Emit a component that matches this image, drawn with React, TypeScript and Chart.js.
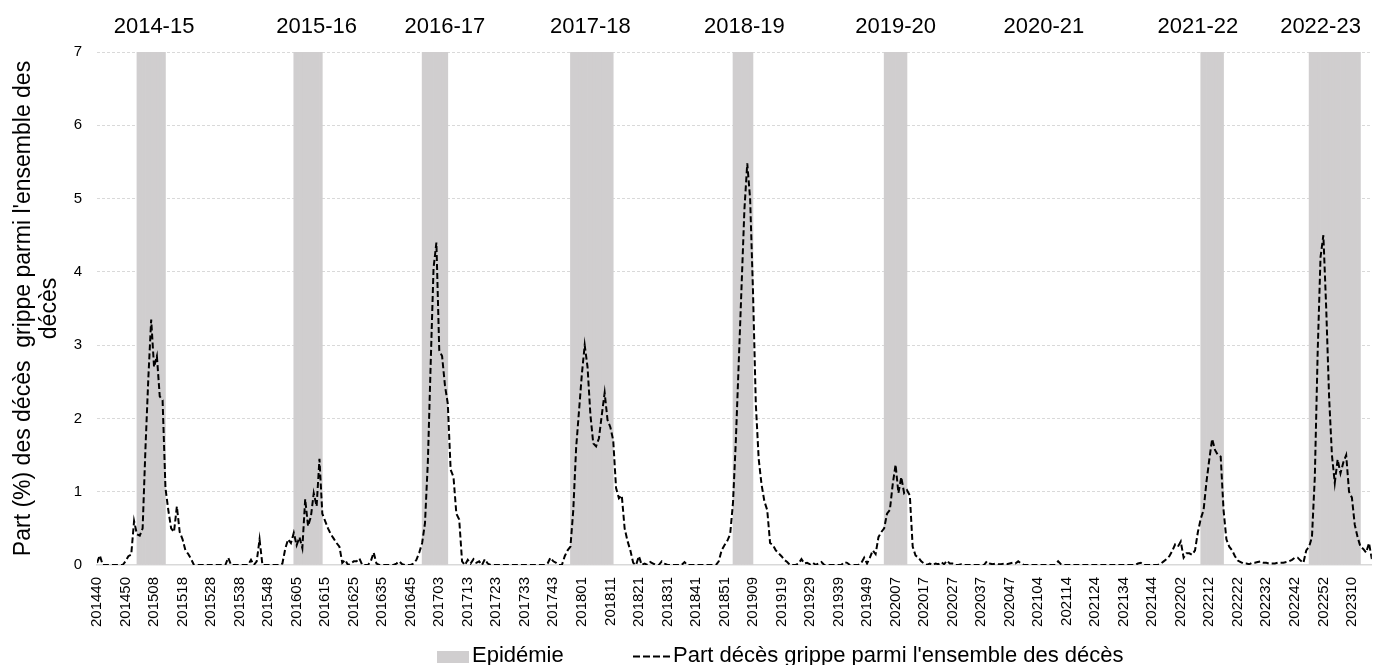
import React, { useEffect, useRef } from "react";
import { Chart, registerables } from "chart.js";

Chart.register(...registerables);

const FONT = "'Liberation Sans', Arial, Helvetica, sans-serif";

// ---- weeks (categories) ----
const FIRST_YEAR = 2014;
const FIRST_WEEK = 40;
const WEEKS_PER_YEAR = [52, 53, 52, 52, 52, 52, 53, 52, 52, 52]; // 2014 .. 2023
const LABEL_STEP = 10;

// ---- series values: share (%) of flu deaths, per season (week 40 -> week 39) ----
const SEASON_2014_15 = [
  0.03, 0.13, 0, 0, 0, 0, 0, 0, 0, 0,
  0.05, 0.12, 0.14, 0.6, 0.42, 0.4, 0.5, 1.6, 2.55, 3.35,
  2.7, 2.85, 2.3, 2.25, 1.05, 0.75, 0.5, 0.45, 0.8, 0.45,
  0.35, 0.2, 0.15, 0.08, 0, 0, 0, 0, 0, 0,
  0, 0, 0, 0, 0, 0, 0.1, 0, 0, 0,
  0, 0,
];
const SEASON_2015_16 = [
  0, 0, 0.07, 0, 0.05, 0.35, 0, 0, 0, 0,
  0, 0, 0, 0.02, 0.22, 0.35, 0.3, 0.44, 0.27, 0.38,
  0.23, 0.9, 0.53, 0.66, 0.98, 0.8, 1.45, 0.7, 0.6, 0.5,
  0.42, 0.36, 0.3, 0.25, 0.03, 0.07, 0, 0.02, 0.05, 0.05,
  0.09, 0, 0, 0, 0.05, 0.17, 0.02, 0, 0, 0,
  0, 0, 0,
];
const SEASON_2016_17 = [
  0.02, 0.05, 0.01, 0, 0, 0, 0.02, 0.07, 0.17, 0.3,
  0.57, 1.4, 2.75, 4.05, 4.4, 2.93, 2.85, 2.45, 2.2, 1.3,
  1.2, 0.7, 0.62, 0.05, 0, 0.07, 0.02, 0.08, 0.03, 0.05,
  0, 0.08, 0.02, 0, 0, 0, 0, 0, 0, 0,
  0, 0, 0, 0, 0, 0, 0, 0, 0, 0,
  0, 0,
];
const SEASON_2017_18 = [
  0, 0.02, 0.1, 0.05, 0.03, 0, 0, 0.12, 0.2, 0.25,
  0.75, 1.6, 2.1, 2.6, 3.0, 2.7, 2.05, 1.66, 1.62, 1.73,
  2.05, 2.35, 1.98, 1.88, 1.7, 1.05, 0.91, 0.95, 0.5, 0.33,
  0.2, 0.03, 0, 0.12, 0, 0.02, 0, 0.04, 0.02, 0,
  0, 0.05, 0.02, 0, 0, 0, 0, 0, 0, 0.04,
  0, 0,
];
const SEASON_2018_19 = [
  0, 0, 0, 0, 0, 0, 0, 0, 0, 0.05,
  0.2, 0.27, 0.33, 0.42, 0.85, 1.7, 2.75, 3.8, 4.85, 5.48,
  5.0, 3.75, 2.2, 1.45, 1.1, 0.87, 0.75, 0.3, 0.27, 0.2,
  0.16, 0.12, 0.07, 0.04, 0, 0, 0, 0.02, 0.08, 0.02,
  0.03, 0.01, 0.03, 0, 0.02, 0.04, 0, 0, 0, 0,
  0, 0,
];
const SEASON_2019_20 = [
  0, 0.04, 0.03, 0, 0, 0, 0, 0.03, 0.1, 0.02,
  0.1, 0.2, 0.15, 0.38, 0.45, 0.5, 0.7, 0.75, 1.1, 1.37,
  0.98, 1.2, 0.98, 1.02, 0.95, 0.25, 0.13, 0.1, 0.05, 0.02,
  0, 0.02, 0, 0.02, 0.01, 0.04, 0.01, 0.06, 0.02, 0.02,
  0, 0, 0.01, 0, 0, 0, 0, 0, 0, 0,
  0, 0.05,
];
const SEASON_2020_21 = [
  0.02, 0.01, 0.02, 0.01, 0.01, 0.02, 0.01, 0.02, 0.03, 0.02,
  0.05, 0.02, 0, 0, 0, 0, 0, 0, 0, 0,
  0, 0, 0, 0, 0.05, 0.01, 0, 0, 0, 0,
  0, 0, 0, 0, 0, 0, 0, 0, 0, 0,
  0, 0, 0, 0, 0, 0, 0, 0, 0, 0,
  0, 0, 0.02,
];
const SEASON_2021_22 = [
  0.03, 0, 0, 0, 0, 0, 0, 0.02, 0.05, 0.08,
  0.12, 0.19, 0.28, 0.25, 0.32, 0.1, 0.16, 0.16, 0.14, 0.2,
  0.45, 0.63, 0.75, 1.13, 1.44, 1.72, 1.57, 1.5, 1.48, 0.75,
  0.35, 0.25, 0.2, 0.12, 0.06, 0.04, 0.02, 0.02, 0.01, 0.03,
  0.03, 0.04, 0.05, 0.03, 0.03, 0.02, 0.02, 0.02, 0.03, 0.03,
  0.03, 0.04,
];
const SEASON_2022_23 = [
  0.05, 0.07, 0.1, 0.1, 0.06, 0.03, 0.2, 0.25, 0.38, 1.2,
  2.9, 4.2, 4.5, 3.5, 2.3, 1.5, 1.12, 1.44, 1.25, 1.4,
  1.5, 1.0, 0.92, 0.55, 0.38, 0.25, 0.22, 0.17, 0.3, 0.08,
];

const VALUES = [
  ...SEASON_2014_15,
  ...SEASON_2015_16,
  ...SEASON_2016_17,
  ...SEASON_2017_18,
  ...SEASON_2018_19,
  ...SEASON_2019_20,
  ...SEASON_2020_21,
  ...SEASON_2021_22,
  ...SEASON_2022_23,
];

// ---- epidemic periods (first / last week) ----
const EPIDEMIC_START = ["201502", "201604", "201649", "201749", "201902", "202003", "202209", "202247"];
const EPIDEMIC_END = ["201511", "201613", "201705", "201811", "201908", "202010", "202216", "202312"];

// ---- season captions and the week they sit over ----
const SEASONS = ["2014-15", "2015-16", "2016-17", "2017-18", "2018-19", "2019-20", "2020-21", "2021-22", "2022-23"];
const SEASON_LABEL_WEEK = ["201508", "201612", "201705", "201804", "201906", "202007", "202106", "202208", "202251"];

const Y_MIN = 0;
const Y_MAX = 7;
const Y_STEP = 1;

const BAR_LABEL = "Epidémie";
const LINE_LABEL = "Part décès grippe parmi l'ensemble des décès";
const Y_TITLE = ["Part (%) des décès  grippe parmi l'ensemble des", "décès"];

const BAND_COLOR = "#d0cecf";
const LINE_COLOR = "#000000";
const GRID_COLOR = "#d9d9d9";
const TEXT_COLOR = "#000000";

function buildWeeks(n: number): string[] {
  const out: string[] = [];
  let y = FIRST_YEAR;
  let w = FIRST_WEEK;
  for (let i = 0; i < n; i++) {
    out.push(`${y}${String(w).padStart(2, "0")}`);
    w++;
    if (w > WEEKS_PER_YEAR[y - FIRST_YEAR]) {
      w = 1;
      y++;
    }
  }
  return out;
}

const WEEKS = buildWeeks(VALUES.length);

const seasonLabelsPlugin = {
  id: "seasonLabels",
  afterDraw(chart: any) {
    const { ctx, scales } = chart;
    const xs = scales.x;
    ctx.save();
    ctx.font = `22px ${FONT}`;
    ctx.fillStyle = TEXT_COLOR;
    ctx.textAlign = "center";
    ctx.textBaseline = "alphabetic";
    SEASONS.forEach((s, k) => {
      const idx = WEEKS.indexOf(SEASON_LABEL_WEEK[k]);
      if (idx < 0) return;
      ctx.fillText(s, xs.getPixelForValue(idx), 33);
    });
    ctx.restore();
  },
};

const legendPlugin = {
  id: "customLegend",
  afterDraw(chart: any) {
    const { ctx } = chart;
    const bar = chart.data.datasets[0];
    const line = chart.data.datasets[1];
    const baseline = 662;
    const midY = 656.5;
    ctx.save();
    ctx.font = `22px ${FONT}`;
    ctx.fillStyle = TEXT_COLOR;
    ctx.textBaseline = "alphabetic";
    ctx.textAlign = "left";
    // bar item
    let x = 437;
    ctx.fillStyle = bar.backgroundColor;
    ctx.fillRect(x, 651, 32, 12);
    ctx.fillStyle = TEXT_COLOR;
    ctx.fillText(bar.label, x + 35, baseline);
    // line item
    x = 633;
    ctx.strokeStyle = line.borderColor;
    ctx.lineWidth = 2;
    ctx.setLineDash([7, 3]);
    ctx.beginPath();
    ctx.moveTo(x, midY);
    ctx.lineTo(x + 40, midY);
    ctx.stroke();
    ctx.setLineDash([]);
    ctx.fillText(line.label, x + 40, baseline);
    ctx.restore();
  },
};

export default function App() {
  const canvasRef = useRef<HTMLCanvasElement | null>(null);

  useEffect(() => {
    document.body.style.margin = "0";
    const canvas = canvasRef.current;
    if (!canvas) return;

    const bandPoints: { x: number; y: number }[] = [];
    EPIDEMIC_START.forEach((s, k) => {
      const a = WEEKS.indexOf(s);
      const b = WEEKS.indexOf(EPIDEMIC_END[k]);
      for (let i = a; i <= b; i++) bandPoints.push({ x: i + 0.5, y: Y_MAX });
    });
    const linePoints = VALUES.map((v, i) => ({ x: i, y: v }));

    const chart = new Chart(canvas, {
      type: "line",
      data: {
        datasets: [
          {
            type: "bar",
            label: BAR_LABEL,
            data: bandPoints,
            backgroundColor: BAND_COLOR,
            borderWidth: 0,
            barPercentage: 1,
            categoryPercentage: 1,
            order: 2,
          } as any,
          {
            type: "line",
            label: LINE_LABEL,
            data: linePoints,
            borderColor: LINE_COLOR,
            borderWidth: 2,
            borderDash: [6, 3],
            pointRadius: 0,
            tension: 0,
            fill: false,
            order: 1,
          } as any,
        ],
      },
      options: {
        animation: false,
        responsive: false,
        devicePixelRatio: 1,
        layout: { padding: { left: 0, right: 7, top: 52, bottom: 0 } },
        plugins: {
          legend: { display: false },
          tooltip: { enabled: false },
        },
        scales: {
          x: {
            type: "linear",
            min: 0,
            max: WEEKS.length - 1,
            offset: false,
            grid: { display: false, drawTicks: false },
            border: { display: true, color: GRID_COLOR, width: 1.5 },
            afterBuildTicks: (scale: any) => {
              const t = [];
              for (let i = 0; i < WEEKS.length; i += LABEL_STEP) t.push({ value: i });
              scale.ticks = t;
            },
            afterFit: (scale: any) => {
              scale.height = 100;
            },
            ticks: {
              autoSkip: false,
              maxRotation: 90,
              minRotation: 90,
              padding: 12,
              color: TEXT_COLOR,
              font: { family: FONT, size: 15 },
              callback: (v: any) => WEEKS[Number(v)] ?? "",
            },
          },
          y: {
            type: "linear",
            min: Y_MIN,
            max: Y_MAX,
            grid: {
              drawTicks: false,
              color: (c: any) => (c.tick && c.tick.value === 0 ? "rgba(0,0,0,0)" : GRID_COLOR),
              lineWidth: 1,
            },
            border: { display: false, dash: [3, 2] },
            afterFit: (scale: any) => {
              scale.width = 97;
            },
            ticks: {
              stepSize: Y_STEP,
              padding: 15,
              color: TEXT_COLOR,
              font: { family: FONT, size: 15 },
            },
            title: {
              display: true,
              text: Y_TITLE,
              color: TEXT_COLOR,
              font: { family: FONT, size: 23, lineHeight: 1.15 },
              padding: { top: 10, bottom: 0 },
            },
          },
        },
      } as any,
      plugins: [seasonLabelsPlugin, legendPlugin],
    });

    return () => chart.destroy();
  }, []);

  return (
    <div style={{ width: 1382, height: 665, position: "relative", background: "#fff" }}>
      <canvas ref={canvasRef} width={1382} height={665} style={{ display: "block" }} />
    </div>
  );
}
